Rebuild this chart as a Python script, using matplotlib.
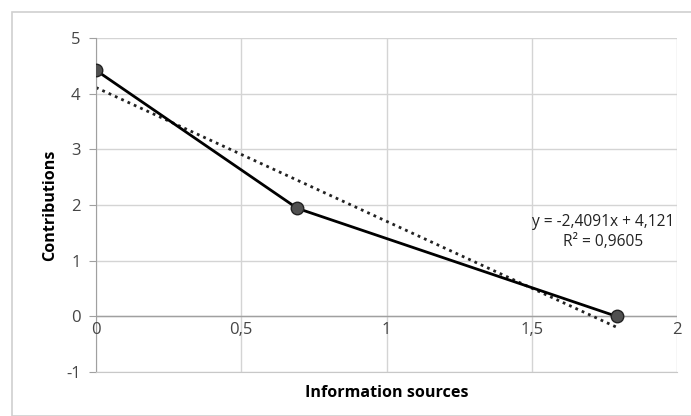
import numpy as np
import matplotlib
matplotlib.use("Agg")
import matplotlib.pyplot as plt
from matplotlib.patches import Rectangle

x_vals = [0.0, 0.693, 1.792]
y_vals = [4.42, 1.94, 0.0]
x_ticks = [0, 0.5, 1, 1.5, 2]
x_tick_labels = ["0", "0,5", "1", "1,5", "2"]
y_ticks = [-1, 0, 1, 2, 3, 4, 5]
trend_text = "y = -2,4091x + 4,121\nR² = 0,9605"

plt.rcParams['font.family'] = ['Open Sans', 'DejaVu Sans']

fig = plt.figure(figsize=(6.91, 4.16), dpi=100)
fig.patches.append(Rectangle((12/691, 0), 1, 1 - 12/416, transform=fig.transFigure,
                             fill=False, edgecolor='#d0d0d0', linewidth=1.2))
ax = fig.add_axes([96/691, 1 - 372/416, (677-96)/691, (372-38)/416])
ax.set_xlim(0, 2)
ax.set_ylim(-1, 5)

ax.set_xticks(x_ticks)
ax.set_xticklabels([])
ax.set_yticks(y_ticks)
ax.set_yticklabels([str(v) for v in y_ticks], fontsize=12, color='#454545')
ax.grid(True, color='#d4d4d4', linewidth=1)
ax.set_axisbelow(True)
for s in ['top', 'right']:
    ax.spines[s].set_visible(False)
ax.spines['left'].set_color('#a0a0a0')
ax.spines['bottom'].set_color('#c8c8c8')
ax.tick_params(axis='x', length=0)
ax.tick_params(axis='y', length=5, color='#a0a0a0', pad=6)
ax.axhline(0, color='#a0a0a0', linewidth=1)

for xt, lab in zip(x_ticks, x_tick_labels):
    ax.text(xt, -0.1, lab, ha='center', va='top', fontsize=12, color='#454545')

# trendline
coef = np.polyfit(x_vals, y_vals, 1)
xt_line = np.array([0, 1.8])
ax.plot(xt_line, np.polyval(coef, xt_line), linestyle=(0, (1, 1.5)), color='#222222', linewidth=2)

ax.plot(x_vals, y_vals, color='black', linewidth=2, marker='o', markersize=9,
        markerfacecolor='#505050', markeredgecolor='#222222', zorder=3)

ax.text(1.745, 1.51, trend_text, ha='center', va='center', fontsize=11.2,
        color='#222222', linespacing=1.35)

ax.set_xlabel("Information sources", fontsize=11.6, fontweight='bold', labelpad=6)
ax.set_ylabel("Contributions", fontsize=11.6, fontweight='bold', labelpad=8)
ax.yaxis.set_label_coords(-0.065, 0.5)

fig.savefig("out.png", dpi=100)
